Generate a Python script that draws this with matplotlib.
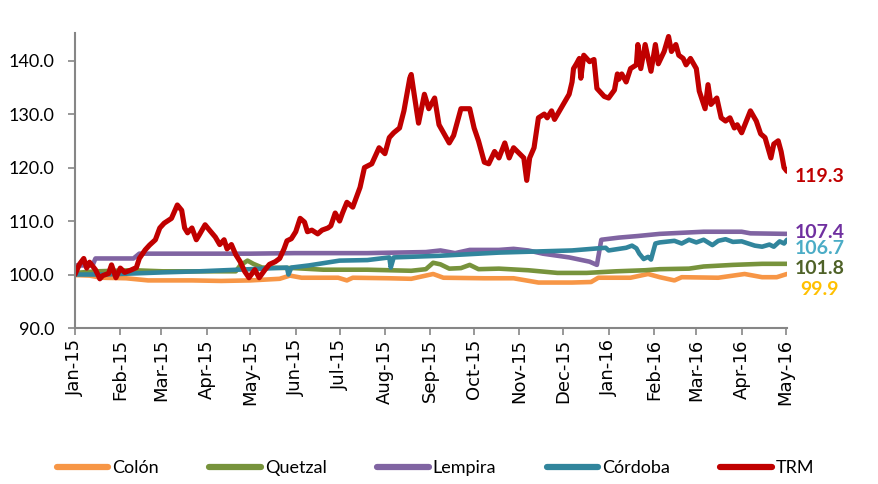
import matplotlib
matplotlib.use("Agg")
import matplotlib.pyplot as plt
import matplotlib.dates as mdates
import pandas as pd

START = pd.Timestamp("2015-01-01")

# ---- data (day offsets from 2015-01-01, index values) ----
trm_days = [0, 3, 6, 8, 10, 14, 17, 19, 23, 25, 28, 31, 34, 38, 42, 44, 48, 51, 55, 58,
            61, 66, 70, 73, 75, 77, 80, 83, 85, 89, 92, 96, 99, 102, 104, 107, 110, 113,
            116, 119, 123, 126, 130, 133, 137, 140, 143, 145, 148, 151, 154, 157, 159,
            162, 166, 169, 173, 175, 178, 181, 183, 186, 190, 195, 198, 203, 208, 212,
            215, 218, 222, 225, 229, 230, 232, 235, 239, 242, 246, 249, 256, 259, 264,
            270, 273, 276, 280, 283, 287, 290, 294, 297, 300, 304, 307, 309, 311, 314,
            317, 321, 323, 326, 328, 331, 334, 338, 340, 341, 343, 345, 346, 348, 352,
            355, 357, 362, 365, 369, 371, 372, 374, 377, 380, 384, 385, 387, 390, 394,
            397, 399, 403, 406, 408, 411, 413, 416, 418, 421, 425, 427, 431, 433, 435,
            439, 442, 445, 448, 451, 453, 456, 462, 466, 469, 472, 476, 478, 481, 483,
            485, 487]
trm_vals = [100.0, 101.9, 103.0, 101.2, 102.3, 100.9, 99.2, 99.8, 100.2, 101.8, 99.4,
            101.2, 100.4, 100.8, 101.3, 103.0, 104.6, 105.5, 106.5, 108.7, 109.6, 110.5,
            113.0, 112.0, 108.7, 107.8, 108.7, 106.5, 107.4, 109.3, 108.3, 107.0, 105.6,
            106.5, 104.8, 105.6, 103.7, 102.4, 100.6, 99.4, 100.9, 99.4, 100.9, 101.9,
            102.4, 103.0, 104.8, 106.3, 106.7, 108.0, 110.5, 109.8, 108.0, 108.3, 107.6,
            108.3, 108.7, 109.1, 111.5, 110.0, 111.5, 113.5, 112.6, 116.3, 120.0, 120.7,
            123.7, 122.6, 125.6, 126.5, 127.4, 130.6, 136.7, 137.4, 133.7, 128.3, 133.7,
            131.0, 133.0, 128.0, 124.6, 126.0, 131.0, 131.0, 127.4, 125.0, 121.0, 120.7,
            123.0, 121.8, 124.6, 121.8, 123.7, 122.6, 121.8, 117.6, 121.8, 123.7, 129.3,
            130.0, 129.3, 130.6, 129.0, 130.4, 131.8, 133.7, 136.0, 138.5, 139.4, 140.4,
            136.7, 141.0, 139.8, 140.2, 134.8, 133.3, 133.0, 134.5, 137.5, 136.5, 137.5,
            136.0, 138.5, 139.2, 143.0, 138.5, 143.0, 138.0, 143.0, 139.4, 141.7, 144.5,
            141.7, 143.0, 141.0, 140.4, 139.2, 140.4, 138.5, 134.3, 131.0, 135.5, 131.8,
            133.0, 129.3, 128.7, 129.3, 127.4, 128.0, 126.5, 130.6, 128.7, 126.3, 125.6,
            121.8, 124.4, 125.0, 123.0, 120.0, 119.3]

lempira_days = [0, 12, 14, 40, 44, 120, 150, 200, 240, 250, 260, 270, 290, 300, 310,
                320, 338, 352, 357, 360, 372, 385, 400, 430, 456, 462, 487]
lempira_vals = [101.7, 101.7, 103.0, 103.0, 103.9, 103.9, 104.0, 104.0, 104.2, 104.5,
                104.0, 104.6, 104.6, 104.8, 104.5, 103.9, 103.2, 102.4, 101.8, 106.5,
                106.9, 107.2, 107.6, 108.0, 108.0, 107.7, 107.6]

cordoba_days = [0, 20, 40, 60, 85, 120, 145, 146, 148, 160, 181, 200, 215, 216, 218,
                249, 290, 340, 358, 363, 365, 377, 381, 384, 386, 389, 392, 394, 397,
                400, 410, 415, 420, 425, 430, 436, 440, 445, 450, 456, 465, 470, 475,
                478, 482, 485, 487]
cordoba_vals = [100.0, 100.0, 100.2, 100.4, 100.6, 101.0, 101.3, 100.0, 101.3, 101.7,
                102.6, 102.7, 103.2, 101.3, 103.2, 103.5, 104.1, 104.5, 104.9, 105.0,
                104.5, 105.0, 105.4, 104.9, 103.9, 102.9, 103.3, 102.8, 105.8, 106.0,
                106.3, 105.8, 106.5, 106.0, 106.5, 105.5, 106.3, 106.6, 106.1, 106.2,
                105.4, 105.2, 105.6, 105.2, 106.2, 105.8, 106.5]

quetzal_days = [0, 15, 40, 60, 110, 113, 118, 122, 128, 150, 170, 200, 230, 240, 245,
                250, 256, 264, 270, 276, 290, 310, 330, 350, 370, 390, 400, 420, 430,
                450, 470, 487]
quetzal_vals = [100.3, 100.6, 100.8, 100.6, 100.6, 101.7, 102.6, 102.0, 101.3, 101.2,
                100.9, 100.9, 100.7, 101.0, 102.2, 101.9, 101.1, 101.2, 101.8, 101.0,
                101.1, 100.8, 100.3, 100.3, 100.6, 100.8, 101.0, 101.1, 101.5, 101.8,
                102.0, 102.0]

colon_days = [0, 10, 18, 35, 50, 80, 100, 120, 140, 147, 155, 180, 186, 190, 215, 230,
              245, 252, 280, 300, 317, 340, 353, 358, 380, 392, 400, 410, 415, 440, 458,
              470, 480, 487]
colon_vals = [99.9, 99.8, 99.4, 99.3, 98.9, 98.9, 98.8, 98.9, 99.2, 99.8, 99.4, 99.4,
              98.9, 99.4, 99.3, 99.2, 100.1, 99.4, 99.3, 99.3, 98.5, 98.5, 98.6, 99.4,
              99.4, 100.1, 99.5, 98.9, 99.5, 99.4, 100.1, 99.5, 99.5, 100.1]

series_names = ["Colón", "Quetzal", "Lempira", "Córdoba", "TRM"]
series_colors = ["#F79646", "#77933C", "#8064A2", "#31859C", "#C00000"]
series_data = [(colon_days, colon_vals), (quetzal_days, quetzal_vals),
               (lempira_days, lempira_vals), (cordoba_days, cordoba_vals),
               (trm_days, trm_vals)]

end_labels = ["119.3", "107.4", "106.7", "101.8", "99.9"]
end_label_colors = ["#C00000", "#7030A0", "#4BACC6", "#4F6228", "#FFC000"]
end_label_y = [118.3, 107.8, 104.9, 101.1, 97.2]

# ---- plot ----
fig = plt.figure(figsize=(8.79, 4.84), dpi=100)
ax = fig.add_axes([0.0853, 0.3223, 0.8100, 0.6100])


def to_dates(days):
    return START + pd.to_timedelta(days, unit="D")

for (d, v), name, col in zip(series_data, series_names, series_colors):
    lw = 3.7 if name == "TRM" else 3.3
    ax.plot(to_dates(d), v, color=col, lw=lw, label=name, solid_joinstyle="round",
            solid_capstyle="round")

ax.set_ylim(90, 145.2)
ax.set_xlim(START, START + pd.Timedelta(days=487))
ax.set_yticks([90, 100, 110, 120, 130, 140])
ax.yaxis.set_major_formatter(matplotlib.ticker.FormatStrFormatter("%.1f"))

ax.xaxis.set_major_locator(mdates.MonthLocator())
ax.xaxis.set_major_formatter(mdates.DateFormatter("%b-%y"))
for lbl in ax.get_xticklabels():
    lbl.set_rotation(90)
    lbl.set_fontfamily("DejaVu Sans")
    lbl.set_fontsize(13)
for lbl in ax.get_yticklabels():
    lbl.set_fontfamily("Lato")
    lbl.set_fontsize(13)

for s in ["top", "right"]:
    ax.spines[s].set_visible(False)
for s in ["left", "bottom"]:
    ax.spines[s].set_color("#868686")
    ax.spines[s].set_linewidth(1.5)
ax.tick_params(axis="both", colors="#868686", length=5, width=1.2, labelcolor="black")
ax.tick_params(axis="x", pad=3)
ax.tick_params(axis="y", pad=10)

x_end = START + pd.Timedelta(days=492)
for txt, col, y in zip(end_labels, end_label_colors, end_label_y):
    dx = pd.Timedelta(days=4) if txt == "99.9" else pd.Timedelta(days=0)
    ax.text(x_end + dx, y, txt, color=col, fontsize=14, fontweight="bold",
            fontfamily="Lato", va="center", ha="left", clip_on=False)

leg = fig.legend(loc="center", bbox_to_anchor=(0.4955, 1 - 468 / 484), ncol=5,
                 frameon=False, prop={"family": "Lato", "size": 13},
                 handlelength=2.85, handletextpad=0.22, columnspacing=2.8,
                 borderaxespad=0, borderpad=0)
for h in leg.get_lines():
    h.set_linewidth(4.5)
    h.set_solid_capstyle("round")

fig.savefig("out.png", dpi=100)
